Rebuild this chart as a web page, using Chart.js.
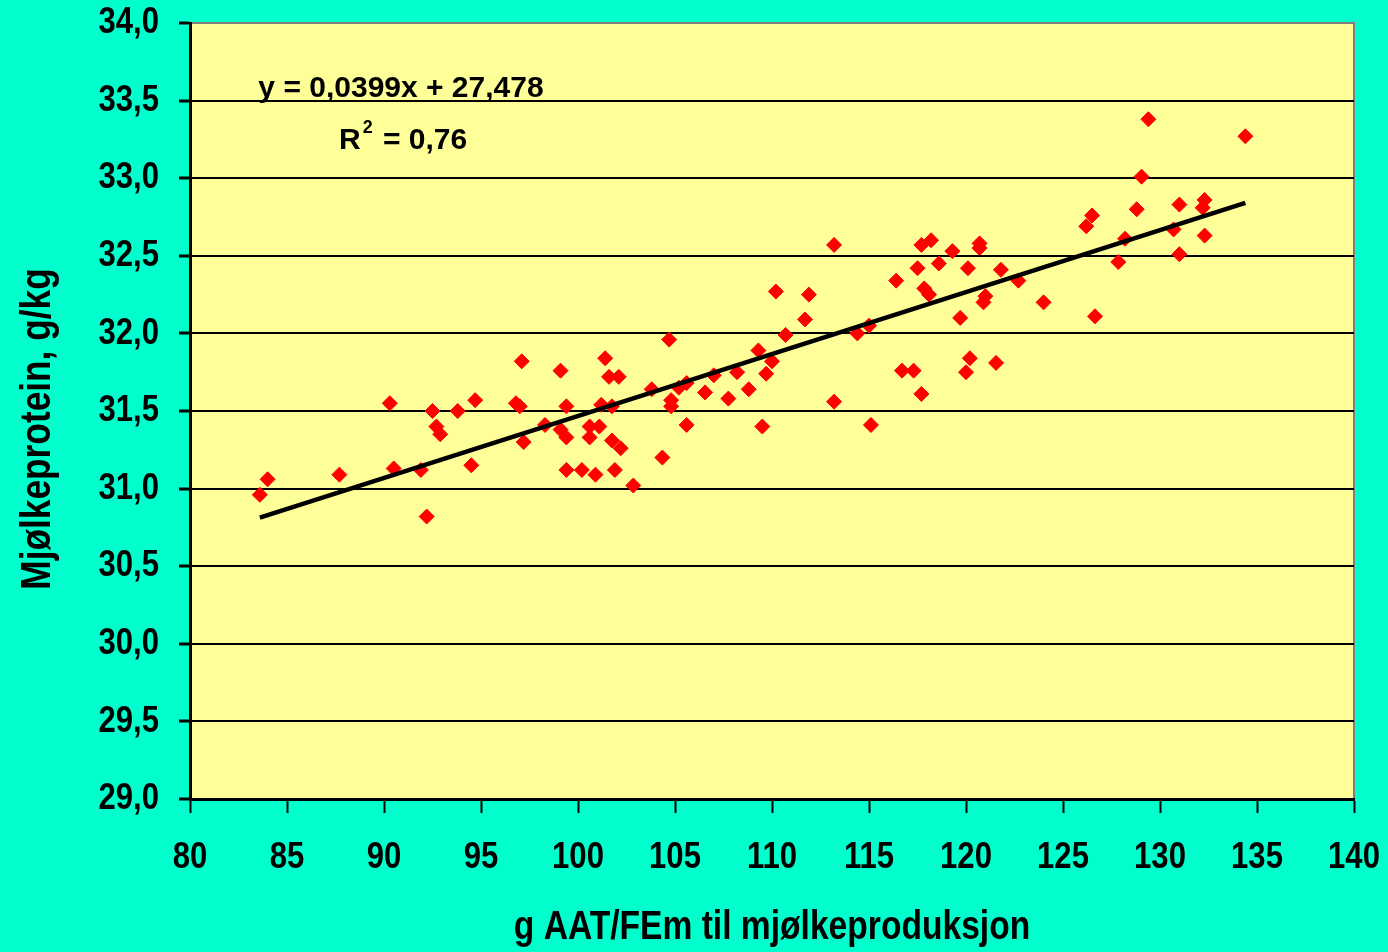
<!DOCTYPE html>
<html>
<head>
<meta charset="utf-8">
<script src="https://cdn.jsdelivr.net/npm/chart.js@4/dist/chart.umd.min.js"></script>
<style>
  html, body { margin: 0; padding: 0; background: #00FFCC; }
  #wrap { width: 1388px; height: 952px; }
</style>
</head>
<body>
<div id="wrap"><canvas id="c" width="1388" height="952"></canvas></div>
<script>
// g AAT/FEm til mjølkeproduksjon (per herd)
const aatValues = [
  83.6, 84.0, 87.7, 90.3, 90.5, 91.9, 92.2, 92.5, 92.7, 92.9,
  93.8, 94.5, 94.7, 96.8, 97.0, 97.1, 97.2, 98.3, 99.1, 99.1,
  99.4, 99.4, 99.4, 100.2, 100.6, 100.6, 100.9, 101.1, 101.2, 101.4,
  101.6, 101.75, 101.75, 101.9, 102.1, 102.2, 102.85, 103.8, 104.35, 104.7,
  104.8, 104.8, 105.2, 105.6, 105.6, 106.55, 107.0, 107.75, 108.2, 108.8,
  109.3, 109.5, 109.7, 110.0, 110.2, 110.7, 111.7, 111.9, 113.2, 113.2,
  114.4, 115.0, 115.1, 116.4, 116.7, 117.3, 117.5, 117.7, 117.7, 117.85,
  118.1, 118.2, 118.6, 119.3, 119.7, 120.0, 120.1, 120.2, 120.7, 120.7,
  120.9, 121.0, 121.55, 121.8, 122.7, 124.0, 126.2, 126.5, 126.65, 127.85,
  128.2, 128.8, 129.05, 129.4, 130.7, 131.0, 131.0, 132.2, 132.3, 132.3,
  134.4
];
// Mjølkeprotein, g/kg (same order)
const proteinValues = [
  30.96, 31.06, 31.09, 31.55, 31.13, 31.12, 30.82, 31.50, 31.40, 31.35,
  31.50, 31.15, 31.57, 31.55, 31.53, 31.82, 31.30, 31.41, 31.76, 31.38,
  31.53, 31.33, 31.12, 31.12, 31.40, 31.33, 31.09, 31.40, 31.54, 31.84,
  31.72, 31.53, 31.31, 31.12, 31.72, 31.26, 31.02, 31.64, 31.20, 31.96,
  31.57, 31.53, 31.65, 31.68, 31.41, 31.62, 31.73, 31.58, 31.75, 31.64,
  31.89, 31.40, 31.74, 31.82, 32.27, 31.99, 32.09, 32.25, 32.57, 31.56,
  32.00, 32.05, 31.41, 32.34, 31.76, 31.76, 32.42, 32.57, 31.61, 32.29,
  32.25, 32.60, 32.45, 32.53, 32.10, 31.75, 32.42, 31.84, 32.58, 32.55,
  32.20, 32.24, 31.81, 32.41, 32.34, 32.20, 32.69, 32.76, 32.11, 32.46,
  32.61, 32.80, 33.01, 33.38, 32.67, 32.83, 32.51, 32.81, 32.86, 32.63,
  33.27
];

// Linear trend as given in the equation label
const trendSlope = 0.0399;
const trendIntercept = 27.478;
const trendRSquared = 0.76;
const trendRange = [83.6, 134.4];

// Axis ticks and titles
const xTicks = [80, 85, 90, 95, 100, 105, 110, 115, 120, 125, 130, 135, 140];
const yTicks = [29.0, 29.5, 30.0, 30.5, 31.0, 31.5, 32.0, 32.5, 33.0, 33.5, 34.0];
const xTitle = 'g AAT/FEm til mjølkeproduksjon';
const yTitle = 'Mjølkeprotein, g/kg';

const FONT = "'Liberation Sans', Arial, sans-serif";
const TEXT_SQUEEZE = 0.84;   // narrow bold look for axis text
const fmt = (v, d) => v.toFixed(d).replace('.', ',');

const points = aatValues.map((x, i) => ({ x: x, y: proteinValues[i] }));
const trendPoints = trendRange.map(x => ({ x: x, y: trendSlope * x + trendIntercept }));

// Draw axis text horizontally condensed around its anchor point
const condensedText = {
  id: 'condensedText',
  beforeInit(chart) {
    const ctx = chart.ctx;
    const plain = ctx.fillText.bind(ctx);
    ctx.plainFillText = plain;
    ctx.fillText = function (text, x, y) {
      ctx.save();
      ctx.translate(x, y);
      ctx.scale(TEXT_SQUEEZE, 1);
      plain(text, 0, 0);
      ctx.restore();
    };
  }
};

// Yellow plot area with thin grey frame, painted under the axes
const plotBackground = {
  id: 'plotBackground',
  beforeDraw(chart) {
    const { ctx, chartArea: a } = chart;
    ctx.save();
    ctx.fillStyle = '#00FFCC';
    ctx.fillRect(0, 0, chart.width, chart.height);
    ctx.fillStyle = '#FFFF99';
    ctx.fillRect(a.left, a.top, a.right - a.left, a.bottom - a.top);
    ctx.strokeStyle = '#7f7f7f';
    ctx.lineWidth = 2;
    ctx.beginPath();
    ctx.moveTo(a.left, a.top);
    ctx.lineTo(a.right, a.top);
    ctx.lineTo(a.right, a.bottom);
    ctx.stroke();
    ctx.restore();
  }
};

// Vertical axis title, set a little below the plot centre
const yAxisTitle = {
  id: 'yAxisTitle',
  afterDraw(chart) {
    const { ctx, chartArea: a } = chart;
    ctx.save();
    ctx.fillStyle = '#000';
    ctx.font = 'bold 42px ' + FONT;
    ctx.textAlign = 'center';
    ctx.textBaseline = 'middle';
    ctx.translate(38, (a.top + a.bottom) / 2 + 18);
    ctx.rotate(-Math.PI / 2);
    ctx.fillText(yTitle, 0, 0);
    ctx.restore();
  }
};

// Regression equation and R² text
const equationLabel = {
  id: 'equationLabel',
  afterDraw(chart) {
    const { ctx, chartArea: a } = chart;
    const put = ctx.plainFillText || ctx.fillText.bind(ctx);
    ctx.save();
    ctx.fillStyle = '#000';
    ctx.textBaseline = 'alphabetic';
    ctx.font = 'bold 30px ' + FONT;
    ctx.textAlign = 'center';
    const eq = 'y = ' + fmt(trendSlope, 4) + 'x + ' + fmt(trendIntercept, 3);
    put(eq, a.left + 211, a.top + 74);
    ctx.textAlign = 'left';
    const x0 = a.left + 149;
    const yb = a.top + 126;
    put('R', x0, yb);
    const wR = ctx.measureText('R').width;
    ctx.font = 'bold 18px ' + FONT;
    put('2', x0 + wR + 2, yb - 16);
    ctx.font = 'bold 30px ' + FONT;
    put(' = ' + fmt(trendRSquared, 2), x0 + wR + 14, yb);
    ctx.restore();
  }
};

new Chart(document.getElementById('c'), {
  type: 'scatter',
  data: {
    datasets: [
      {
        label: 'Mjølkeprotein',
        data: points,
        pointStyle: 'rectRot',
        pointRadius: 7.5,
        pointBackgroundColor: '#FF0000',
        pointBorderColor: '#FF0000',
        pointBorderWidth: 1,
        order: 2
      },
      {
        label: 'Lineær trend',
        type: 'line',
        data: trendPoints,
        borderColor: '#000',
        borderWidth: 4.5,
        pointRadius: 0,
        fill: false,
        order: 1
      }
    ]
  },
  options: {
    responsive: false,
    animation: false,
    layout: { padding: { top: 23, right: 34, bottom: 0, left: 0 } },
    plugins: { legend: { display: false }, tooltip: { enabled: false } },
    scales: {
      x: {
        type: 'linear',
        min: xTicks[0],
        max: xTicks[xTicks.length - 1],
        afterBuildTicks: s => { s.ticks = xTicks.map(v => ({ value: v })); },
        afterFit: s => { s.height = 153; s.paddingLeft = 0; s.paddingRight = 0; },
        border: { color: '#000', width: 3 },
        grid: { drawOnChartArea: false, drawTicks: true, tickLength: 14, tickColor: '#000', tickWidth: 2 },
        ticks: {
          color: '#000',
          font: { family: FONT, size: 37, weight: 'bold' },
          padding: 23,
          maxRotation: 0,
          autoSkip: false,
          callback: v => String(v)
        },
        title: {
          display: true,
          text: xTitle,
          color: '#000',
          font: { family: FONT, size: 40, weight: 'bold' },
          padding: { top: 0, bottom: 0 }
        }
      },
      y: {
        type: 'linear',
        min: yTicks[0],
        max: yTicks[yTicks.length - 1],
        afterBuildTicks: s => { s.ticks = yTicks.map(v => ({ value: v })); },
        afterFit: s => { s.width = 190; s.paddingTop = 0; s.paddingBottom = 0; },
        border: { color: '#000', width: 3 },
        grid: {
          color: c => (c.tick && c.tick.value === 34) ? 'rgba(0,0,0,0)' : '#000',
          lineWidth: 2,
          drawTicks: true,
          tickLength: 11,
          tickColor: '#000',
          tickWidth: 3
        },
        ticks: {
          color: '#000',
          font: { family: FONT, size: 37, weight: 'bold' },
          padding: 20,
          autoSkip: false,
          callback: v => fmt(v, 1)
        },
        title: { display: false }
      }
    }
  },
  plugins: [condensedText, plotBackground, yAxisTitle, equationLabel]
});
</script>
</body>
</html>
